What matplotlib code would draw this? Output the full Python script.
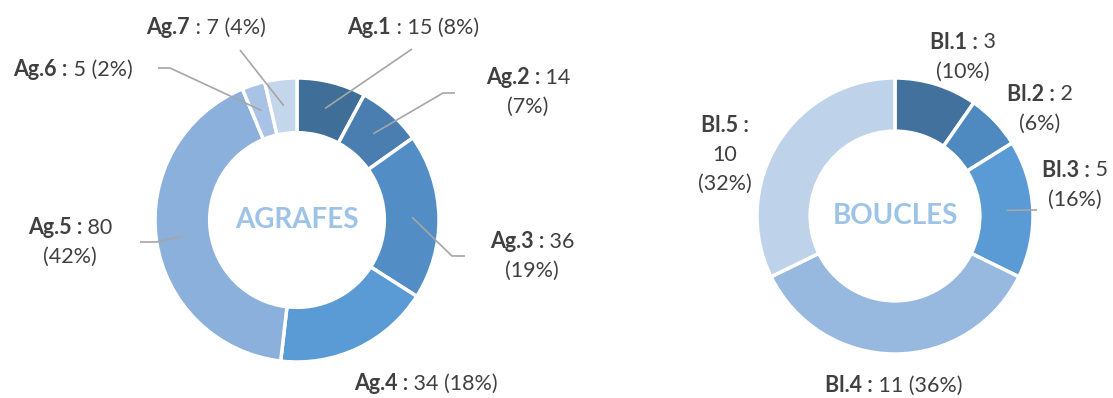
import numpy as np
import matplotlib.pyplot as plt

plt.rcParams['font.family'] = ['Lato', 'DejaVu Sans']

# données
ag_names = ['Ag.1', 'Ag.2', 'Ag.3', 'Ag.4', 'Ag.5', 'Ag.6', 'Ag.7']
ag_values = [15, 14, 36, 34, 80, 5, 7]
ag_pct = ['8%', '7%', '19%', '18%', '42%', '2%', '4%']

bl_names = ['Bl.1', 'Bl.2', 'Bl.3', 'Bl.4', 'Bl.5']
bl_values = [3, 2, 5, 11, 10]
bl_pct = ['10%', '6%', '16%', '36%', '32%']

ag_colors = ['#3F6E98', '#4A7EB0', '#528EC5', '#5B9BD5', '#8BB0DC', '#A8C3E5', '#C4D6EC']
bl_colors = ['#41719C', '#4E89C0', '#5B9BD5', '#97B8DF', '#BED2EA']

W, H = 1113, 398
fig = plt.figure(figsize=(W / 100, H / 100), dpi=100)
ax = fig.add_axes([0, 0, 1, 1])
renderer = fig.canvas.get_renderer()

TXT = '#404040'
LINE = '#A6A6A6'
FS = 15.5
LH = 29  # interligne en pixels


def donut(values, colors, cx, cy, R, title):
    cy = H - cy
    ax.pie(values, colors=colors, radius=R, center=(cx, cy), startangle=90,
           counterclock=False,
           wedgeprops=dict(width=R * 0.385, edgecolor='white', linewidth=2.5))
    ax.text(cx, cy, title, ha='center', va='center', fontsize=20,
            fontweight='bold', color='#9DC3E6')
    v = np.array(values, dtype=float)
    mid = (np.cumsum(v) - v / 2) / v.sum()
    ang = np.deg2rad(90 - 360 * mid)
    r = R * 0.81
    return cx + r * np.cos(ang), cy + r * np.sin(ang)


def label(x, y, lines, leader=None, pt=None):
    # lines[0] = (partie grasse, suite normale), puis lignes normales
    n = len(lines)
    y0 = y - (n - 1) * LH / 2
    for k, ln in enumerate(lines):
        yy = H - (y0 + k * LH)
        if isinstance(ln, tuple):
            b = ax.text(0, yy, ln[0], fontsize=FS, fontweight='bold',
                        color=TXT, va='center', ha='left')
            r = ax.text(0, yy, ln[1], fontsize=FS, color=TXT, va='center', ha='left')
            wb = b.get_window_extent(renderer).width
            wr = r.get_window_extent(renderer).width if ln[1].strip() else 0
            left = x - (wb + wr) / 2
            b.set_x(left)
            r.set_x(left + wb)
        else:
            ax.text(x, yy, ln, fontsize=FS, color=TXT, va='center', ha='center')
    if leader is not None:
        xs = [p[0] for p in leader] + [pt[0]]
        ys = [H - p[1] for p in leader] + [pt[1]]
        ax.plot(xs, ys, color=LINE, lw=1.2, solid_capstyle='butt')


# AGRAFES
px, py = donut(ag_values, ag_colors, 297, 220, 142, 'AGRAFES')
v, p, nm = ag_values, ag_pct, ag_names
ag_labels = [
    (413, 28, [(nm[0], f' : {v[0]} ({p[0]})')], [(412, 49)]),
    (528, 92, [(nm[1] + ' :', f' {v[1]}'), f'({p[1]})'], [(455, 93), (443, 93)]),
    (532, 256, [(nm[2] + ' :', f' {v[2]}'), f'({p[2]})'], [(465, 256), (452, 256)]),
    (426, 384, [(nm[3] + ' :', f' {v[3]} ({p[3]})')], None),
    (70, 242, [(nm[4] + ' :', f' {v[4]}'), f'({p[4]})'], [(140, 242), (156, 242)]),
    (73, 70, [(nm[5] + ' :', f' {v[5]} ({p[5]})')], [(158, 68), (170, 68)]),
    (206, 28, [(nm[6], f' : {v[6]} ({p[6]})')], [(240, 50)]),
]
for i, (x, y, lines, lead) in enumerate(ag_labels):
    label(x, y, lines, lead, (px[i], py[i]))

# BOUCLES
qx, qy = donut(bl_values, bl_colors, 895, 216, 138, 'BOUCLES')
v, p, nm = bl_values, bl_pct, bl_names
bl_labels = [
    (963, 57, [(nm[0] + ' :', f' {v[0]}'), f'({p[0]})'], None),
    (1040, 109, [(nm[1] + ' :', f' {v[1]}'), f'({p[1]})'], None),
    (1075, 185, [(nm[2] + ' :', f' {v[2]}'), f'({p[2]})'], [(1037, 210)]),
    (894, 386, [(nm[3] + ' :', f' {v[3]} ({p[3]})')], None),
    (725, 155, [(nm[4] + ' :', ''), f'{v[4]}', f'({p[4]})'], None),
]
for i, (x, y, lines, lead) in enumerate(bl_labels):
    label(x, y, lines, lead, (qx[i], qy[i]))

ax.set_xlim(0, W)
ax.set_ylim(0, H)
ax.set_aspect('equal')
ax.axis('off')

plt.savefig('out.png', dpi=100, facecolor='white')
